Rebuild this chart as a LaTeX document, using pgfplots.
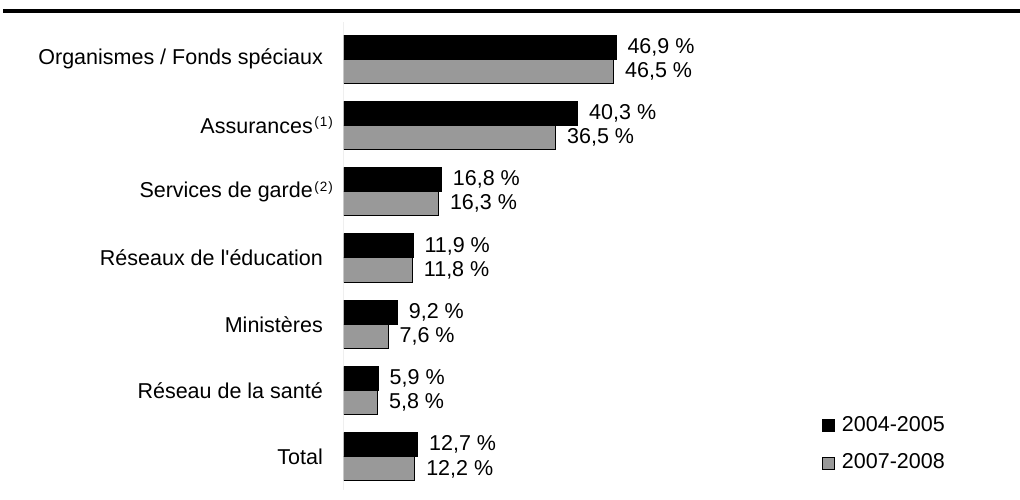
\documentclass[border=0pt]{standalone}
\usepackage{fontspec}
\setmainfont{Liberation Sans}
\usepackage{pgfplots}
\pgfplotsset{compat=1.18}
\definecolor{bargray}{RGB}{153,153,153}
\newcommand{\lfont}{\fontsize{21.5}{25}\selectfont}
\newcommand{\supr}[1]{\makebox[10pt][l]{\hspace{1.5pt}\raisebox{6.5pt}{\fontsize{13.5}{12}\selectfont(\kern1pt#1\kern1pt)}}}
\begin{document}
\begin{tikzpicture}
\useasboundingbox (0,0) rectangle (1020pt,499pt);
\fill[black] (3pt,486pt) rectangle (1020pt,490pt);
\begin{axis}[
  at={(344pt,9pt)}, anchor=south west,
  scale only axis, width=667pt, height=468pt,
  xbar, xmin=0, xmax=115,
  ymin=-0.56, ymax=6.5, y dir=reverse,
  bar width=0.363,
  axis line style={draw=none},
  xtick=\empty,
  ytick={0,1,2,3,4,5,6},
  yticklabels={Organismes / Fonds spéciaux, Assurances\supr{1}, Services de garde\supr{2}, Réseaux de l\textquotesingle éducation, Ministères, Réseau de la santé, Total},
  major tick length=0pt,
  yticklabel style={font=\lfont, inner sep=0pt, anchor=east, xshift=-21pt},
  point meta=x,
  nodes near coords={\pgfmathprintnumber[fixed,fixed zerofill,precision=1,use comma]{\pgfplotspointmeta}~\%},
  nodes near coords align=horizontal,
  every node near coord/.append style={font=\lfont, anchor=west, inner sep=0pt, xshift=11pt, text=black},
  /pgf/number format/assume math mode=true,
  legend style={at={(axis description cs:0.7166,0.158)}, anchor=north west, draw=none, fill=none, inner sep=0pt, outer sep=0pt, font=\lfont, nodes={inner sep=0pt, anchor=base west}, column sep=7pt, row sep=21pt},
  legend cell align=left,
  legend image code/.code={\draw[#1, line width=1pt] (0.5pt,-0.5pt) rectangle (12.5pt,11.5pt);},
]
\draw[gray, line width=1pt] (axis description cs:0,0) -- (axis description cs:0,1);
\addplot[fill=black, draw=black, line width=1pt, bar shift=-0.1815] coordinates {
  (46.9,0) (40.3,1) (16.8,2) (11.9,3) (9.2,4) (5.9,5) (12.7,6)};
\addlegendentry{2004-2005}
\addplot[fill=bargray, draw=black, line width=1pt, bar shift=0.1815] coordinates {
  (46.5,0) (36.5,1) (16.3,2) (11.8,3) (7.6,4) (5.8,5) (12.2,6)};
\addlegendentry{2007-2008}
\end{axis}
\end{tikzpicture}
\end{document}
